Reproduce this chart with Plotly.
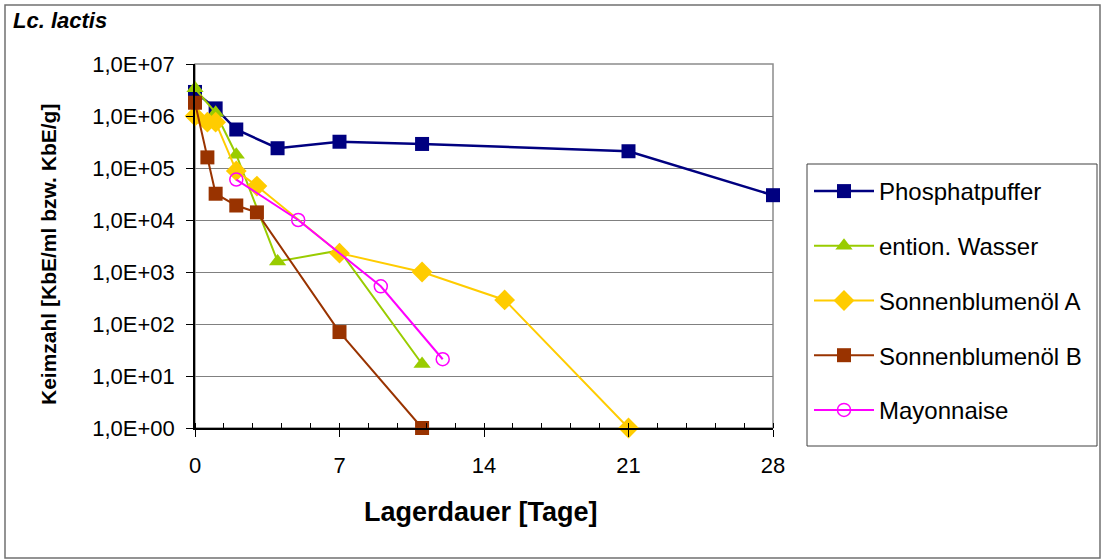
import plotly.graph_objects as go

# ---- data ----
phos_x = [0, 1, 2, 4, 7, 11, 21, 28]
phos_y = [2.9e6, 1.4e6, 5.5e5, 2.4e5, 3.2e5, 2.9e5, 2.1e5, 3.0e4]

wasser_x = [0, 1, 2, 4, 7, 11]
wasser_y = [3.4e6, 1.15e6, 1.8e5, 1.6e3, 2.6e3, 17]

oelA_x = [0, 0.6, 1, 2, 3, 7, 11, 15, 21]
oelA_y = [1.0e6, 7.6e5, 7.6e5, 8.8e4, 4.5e4, 2.3e3, 1.0e3, 2.9e2, 1]

oelB_x = [0, 0.6, 1, 2, 3, 7, 11]
oelB_y = [1.8e6, 1.6e5, 3.2e4, 1.9e4, 1.4e4, 70, 1]

mayo_x = [2, 5, 9, 12]
mayo_y = [6.0e4, 1.0e4, 5.3e2, 21]

x_ticks = [0, 7, 14, 21, 28]
y_ticks = [1e0, 1e1, 1e2, 1e3, 1e4, 1e5, 1e6, 1e7]
y_ticktext = ["1,0E+00", "1,0E+01", "1,0E+02", "1,0E+03",
              "1,0E+04", "1,0E+05", "1,0E+06", "1,0E+07"]

FONT = "Liberation Sans, Arial, sans-serif"

fig = go.Figure()

def add(x, y, name, color, symbol, size, width):
    fig.add_trace(go.Scatter(
        x=x, y=y, name=name, mode="lines+markers",
        line=dict(color=color, width=width),
        marker=dict(symbol=symbol, size=size, color=color,
                    line=dict(color=color, width=1.5 if symbol.endswith("open") else 0)),
        cliponaxis=False, legendgroup=name,
    ))

add(phos_x, phos_y, "Phosphatpuffer", "#000080", "square", 14, 2.5)
add(wasser_x, wasser_y, "ention. Wasser", "#99CC00", "triangle-up", 15, 2)
add(oelA_x, oelA_y, "Sonnenblumenöl A", "#FFCC00", "diamond", 16, 2)
add(oelB_x, oelB_y, "Sonnenblumenöl B", "#993300", "square", 14, 2)
add(mayo_x, mayo_y, "Mayonnaise", "#FF00FF", "circle-open", 13, 2)

L, R, T, B = 195, 773, 64, 428
W, H = 1103, 560

def px(xp):
    return (xp - L) / (R - L)

def py(yp):
    return (B - yp) / (B - T)

fig.update_layout(
    width=W, height=H,
    margin=dict(l=L, r=W - R, t=T, b=H - B, autoexpand=False),
    paper_bgcolor="white", plot_bgcolor="white",
    font=dict(family=FONT, color="black"),
    showlegend=True,
    legend=dict(
        x=px(809), y=py(169), xanchor="left", yanchor="top",
        borderwidth=0, bgcolor="rgba(0,0,0,0)",
        font=dict(size=24, family=FONT, color="black"),
        itemwidth=60, tracegroupgap=20.5,
    ),
    xaxis=dict(
        range=[0, 28], tickvals=x_ticks, ticktext=[str(v) for v in x_ticks],
        showgrid=False, zeroline=False,
        showline=True, linecolor="black", linewidth=1.5,
        ticks="outside", ticklen=7, tickcolor="black", tickwidth=1,
        tickfont=dict(size=22, family=FONT, color="black"),
        ticklabelstandoff=10,
        minor=dict(dtick=1.4, tick0=0, ticks="inside", ticklen=5,
                   tickcolor="black", tickwidth=1, showgrid=False),
    ),
    yaxis=dict(
        type="log", range=[0, 7], tickvals=y_ticks, ticktext=y_ticktext,
        showgrid=True, gridcolor="#808080", gridwidth=1, zeroline=False,
        showline=True, linecolor="black", linewidth=1.5,
        ticks="outside", ticklen=7, tickcolor="black", tickwidth=1,
        tickfont=dict(size=22, family=FONT, color="black"),
        ticklabelstandoff=7,
    ),
    shapes=[
        dict(type="rect", xref="paper", yref="paper", x0=0, x1=1, y0=0, y1=1,
             line=dict(color="#8c8c8c", width=1.5), layer="below"),
        dict(type="rect", xref="paper", yref="paper",
             x0=px(5), x1=px(1100), y0=py(558), y1=py(5),
             line=dict(color="#707070", width=1.5), layer="below"),
        dict(type="rect", xref="paper", yref="paper",
             x0=px(807), x1=px(1097), y0=py(446), y1=py(164),
             line=dict(color="#404040", width=1), layer="below"),
    ],
    annotations=[
        dict(text="<b><i>Lc. lactis</i></b>", xref="paper", yref="paper",
             x=px(11), y=py(21), xanchor="left", yanchor="middle",
             showarrow=False, font=dict(size=22, family=FONT, color="black")),
        dict(text="<b>Keimzahl [KbE/ml bzw. KbE/g]</b>", xref="paper", yref="paper",
             x=px(48), y=py(255), xanchor="center", yanchor="middle",
             textangle=-90, showarrow=False,
             font=dict(size=21, family=FONT, color="black")),
        dict(text="<b>Lagerdauer [Tage]</b>", xref="paper", yref="paper",
             x=px(481), y=py(512), xanchor="center", yanchor="middle",
             showarrow=False, font=dict(size=27, family=FONT, color="black")),
    ],
)

fig.write_html("out.html", config={"displayModeBar": False},
               post_script="document.body.style.margin='0';document.body.style.padding='0';")
